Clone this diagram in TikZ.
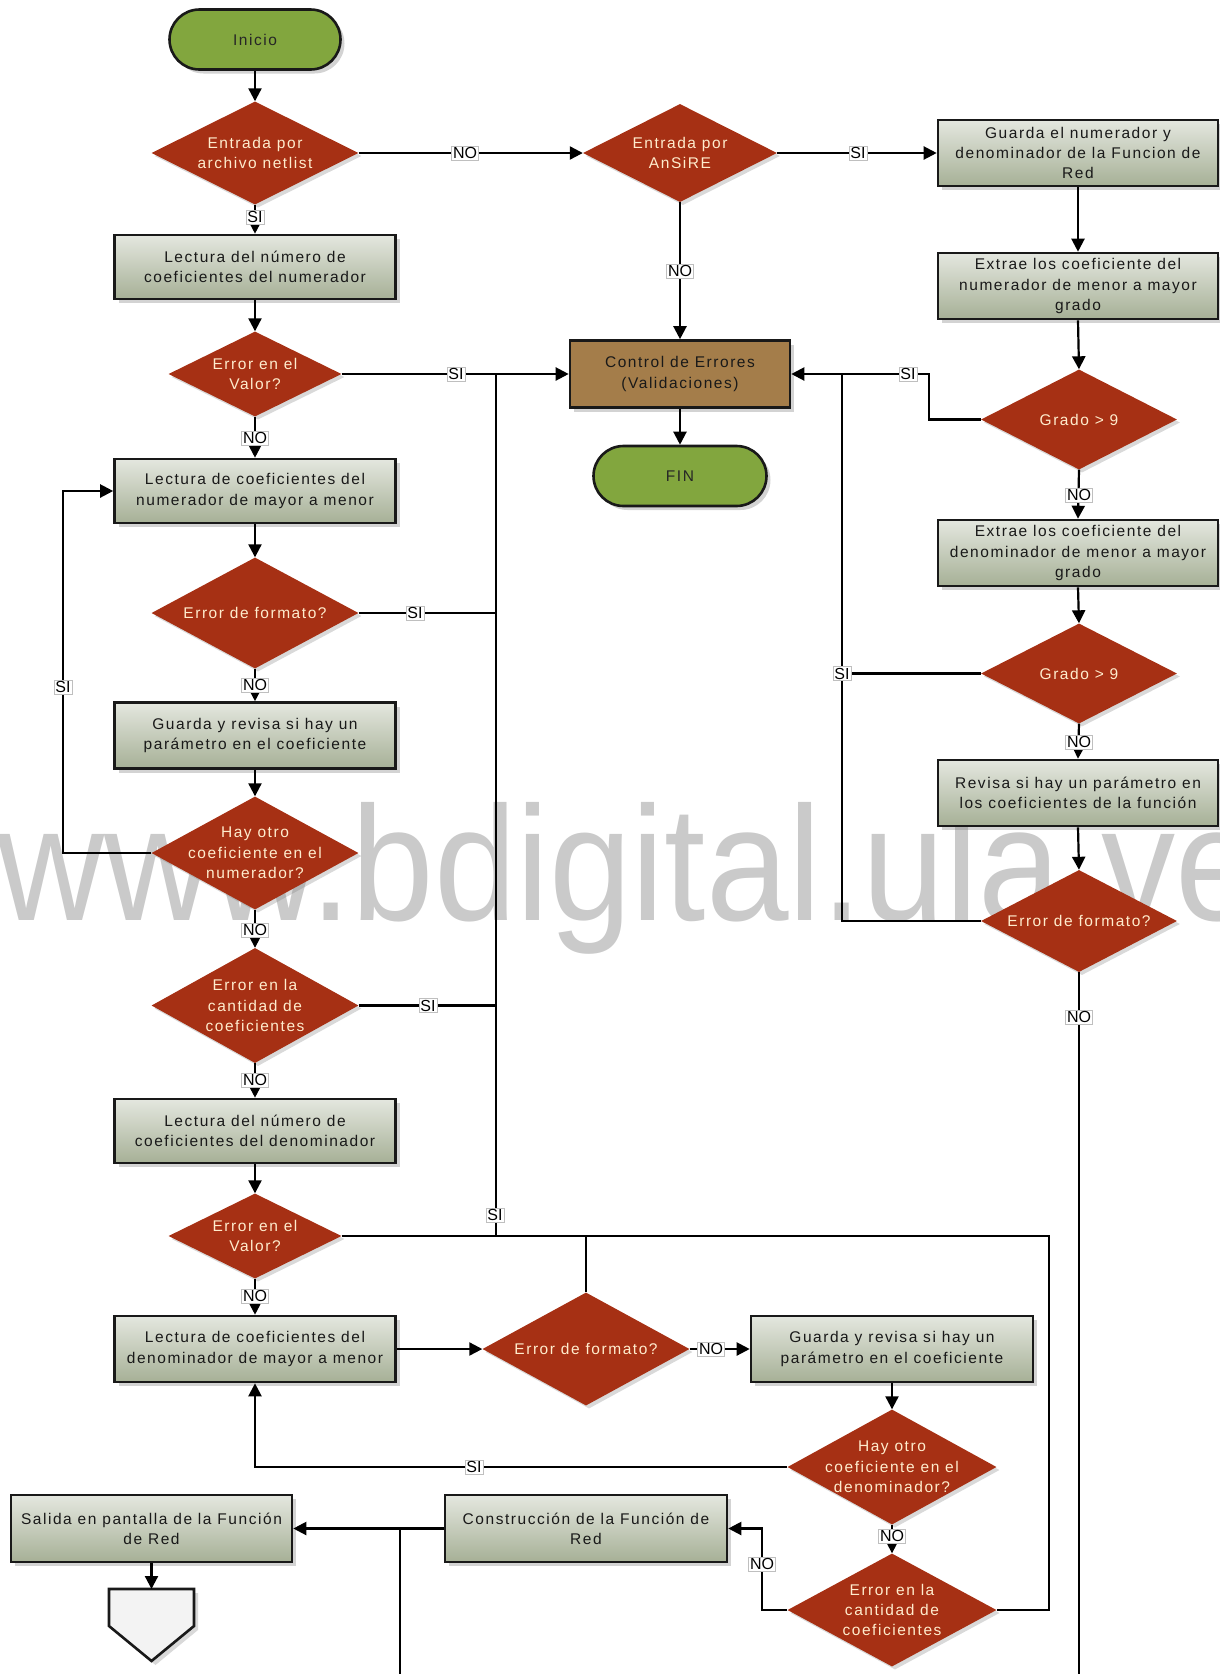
\documentclass[tikz,border=0pt]{standalone}
\usepackage{fontspec}
\usepackage{graphicx}
\setmainfont{Liberation Sans}
\newfontfamily\boxfont[LetterSpace=10]{Liberation Sans}
\usetikzlibrary{shapes.geometric,arrows.meta,shadows}

\definecolor{boxtop}{RGB}{228,231,223}
\definecolor{boxbot}{RGB}{166,176,150}
\definecolor{dred}{RGB}{166,48,20}
\definecolor{dtext}{RGB}{255,236,205}
\definecolor{tgreen}{RGB}{130,166,62}
\definecolor{cbrown}{RGB}{164,125,74}
\definecolor{wmark}{RGB}{202,202,202}
\definecolor{offfill}{RGB}{243,243,243}

\begin{document}
\begin{tikzpicture}[x=1pt,y=-1pt,
  basebox/.style={rectangle, draw=black!90, line width=2.6pt, minimum width=281pt,
    minimum height=64pt, inner sep=2pt, align=center,
    font=\boxfont\fontsize{15.5}{20.3}\selectfont, text=black!90,
    drop shadow={shadow xshift=4pt, shadow yshift=-4pt, opacity=0.35}},
  procbox/.style={basebox, top color=boxtop, bottom color=boxbot},
  ctrlbox/.style={basebox, fill=cbrown},
  dec/.style={diamond, fill=dred, draw=none, inner sep=0pt,
    drop shadow={shadow xshift=3pt, shadow yshift=-3pt, opacity=0.3}},
  dtxt/.style={align=center, text=dtext, inner sep=0pt,
    font=\boxfont\fontsize{15.5}{20.3}\selectfont},
  term/.style={rectangle, rounded corners=30pt, draw=black!90, line width=2.6pt,
    fill=tgreen, minimum width=171pt, minimum height=60pt, text=black!85,
    font=\boxfont\fontsize{15.5}{20.3}\selectfont,
    drop shadow={shadow xshift=4pt, shadow yshift=-4pt, opacity=0.35}},
  conn/.style={line width=2.2pt, draw=black},
  arr/.style={conn, -{Triangle[length=13pt,width=13pt]}},
  yn/.style={fill=white, draw=gray!50, line width=0.6pt, inner sep=1.4pt,
    font=\fontsize{16}{16}\selectfont, text=black},
]
\useasboundingbox (0,0) rectangle (1220,1674);

% watermark (behind)
\node[anchor=base west, text=wmark, inner sep=0pt, font=\fontsize{163}{163}\selectfont]
  (wm) at (-3,920) {\scalebox{0.91}[1]{www.bdigital.ula.ve}};

% ---------- nodes ----------
\node[term] (ini) at (255,39.5) {Inicio};
\node[dec, minimum width=207pt, minimum height=103pt] (d1) at (255,153) {};
\node[dtxt] (d1t) at (d1.center) {Entrada por\\archivo netlist};
\node[dec, minimum width=194pt, minimum height=98pt] (d2) at (680,153) {};
\node[dtxt] (d2t) at (d2.center) {Entrada por\\AnSiRE};
\node[procbox, minimum width=280pt, minimum height=66pt] (g1) at (1078,153)
  {Guarda el numerador y\\denominador de la Funcion de\\Red};
\node[procbox] (b1) at (255,267) {Lectura del número de\\coeficientes del numerador};
\node[procbox, minimum width=280pt, minimum height=66pt] (e1) at (1078,286)
  {Extrae los coeficiente del\\numerador de menor a mayor\\grado};
\node[dec, minimum width=173pt, minimum height=85pt] (d3) at (255,374) {};
\node[dtxt] (d3t) at (d3.center) {Error en el\\Valor?};
\node[ctrlbox, minimum width=220pt, minimum height=67pt] (ctrl) at (680,374)
  {Control de Errores\\(Validaciones)};
\node[dec, minimum width=196pt, minimum height=100pt] (gr1) at (1079,419.5) {};
\node[dtxt] (gr1t) at (gr1.center) {Grado > 9};
\node[term, minimum width=173pt] (fin) at (680,476) {FIN};
\node[procbox] (b2) at (255,491) {Lectura de coeficientes del\\numerador de mayor a menor};
\node[procbox, minimum width=280pt, minimum height=66pt] (e2) at (1078,553)
  {Extrae los coeficiente del\\denominador de menor a mayor\\grado};
\node[dec, minimum width=207pt, minimum height=111pt] (d4) at (255,613) {};
\node[dtxt] (d4t) at (d4.center) {Error de formato?};
\node[dec, minimum width=196pt, minimum height=100pt] (gr2) at (1079,673.5) {};
\node[dtxt] (gr2t) at (gr2.center) {Grado > 9};
\node[procbox, minimum height=66pt] (b3) at (255,735.5)
  {Guarda y revisa si hay un\\parámetro en el coeficiente};
\node[procbox, minimum width=280pt, minimum height=66pt] (rv) at (1078,793)
  {Revisa si hay un parámetro en\\los coeficientes de la función};
\node[dec, minimum width=207pt, minimum height=113pt] (d5) at (255,853) {};
\node[dtxt] (d5t) at (d5.center) {Hay otro\\coeficiente en el\\numerador?};
\node[dec, minimum width=196pt, minimum height=102pt] (fm2) at (1079,921) {};
\node[dtxt] (fm2t) at (fm2.center) {Error de formato?};
\node[dec, minimum width=207pt, minimum height=115pt] (d6) at (255,1005.5) {};
\node[dtxt] (d6t) at (d6.center) {Error en la\\cantidad de\\coeficientes};
\node[procbox] (b4) at (255,1131) {Lectura del número de\\coeficientes del denominador};
\node[dec, minimum width=173pt, minimum height=85pt] (d7) at (255,1236) {};
\node[dtxt] (d7t) at (d7.center) {Error en el\\Valor?};
\node[procbox, minimum height=66pt] (b5) at (255,1349)
  {Lectura de coeficientes del\\denominador de mayor a menor};
\node[dec, minimum width=207pt, minimum height=113pt] (d8) at (586,1349) {};
\node[dtxt] (d8t) at (d8.center) {Error de formato?};
\node[procbox, minimum width=282pt, minimum height=66pt] (b6) at (892,1349)
  {Guarda y revisa si hay un\\parámetro en el coeficiente};
\node[dec, minimum width=209pt, minimum height=115pt] (d9) at (892,1467) {};
\node[dtxt] (d9t) at (d9.center) {Hay otro\\coeficiente en el\\denominador?};
\node[procbox, minimum width=282pt, minimum height=67pt] (b7) at (586,1528.5)
  {Construcción de la Función de\\Red};
\node[procbox, minimum height=67pt] (sal) at (151.5,1528.5)
  {Salida en pantalla de la Función\\de Red};
\node[dec, minimum width=209pt, minimum height=113pt] (d10) at (892,1610) {};
\node[dtxt] (d10t) at (d10.center) {Error en la\\cantidad de\\coeficientes};

% off-page connector
\coordinate (offc) at (151.5,1589);
\draw[line width=2.6pt, draw=black!90, fill=offfill,
  drop shadow={shadow xshift=4pt, shadow yshift=-4pt, opacity=0.3}]
  (109,1589) -- (194,1589) -- (194,1626) -- (151.5,1661) -- (109,1626) -- cycle;

% helper coordinates
\coordinate (bust) at (496,374);
\coordinate (busb) at (496,1236);
\coordinate (lx) at (63,0);
\coordinate (nx) at (762,0);
\coordinate (dn) at (400,1674);
\coordinate (rx) at (929,0);
\coordinate (vx) at (842,0);
\coordinate (ox) at (1049,0);

% ---------- connectors ----------
\draw[arr] (ini.south) -- (d1.north);
\draw[arr] (d1.east) -- (d2.west);
\draw[arr] (d2.east) -- (g1.west);
\draw[arr] (d1.south) -- (b1.north);
\draw[arr] (d2.south) -- (ctrl.north);
\draw[arr] (g1.south) -- (e1.north);
\draw[arr] (e1.south) -- (gr1.north);
\draw[arr] (b1.south) -- (d3.north);
\draw[arr] (d3.east) -- (ctrl.west);
\draw[arr] (ctrl.south) -- (fin.north);
\draw[arr] (d3.south) -- (b2.north);
\draw[arr] (b2.south) -- (d4.north);
\draw[conn] (d4.east) -- (d4.east -| bust);
\draw[arr] (d4.south) -- (b3.north);
\draw[arr] (b3.south) -- (d5.north);
\draw[arr] (d5.west) -- (d5.west -| lx) -- (b2.west -| lx) -- (b2.west);
\draw[arr] (d5.south) -- (d6.north);
\draw[conn] (d6.east) -- (d6.east -| bust);
\draw[arr] (d6.south) -- (b4.north);
\draw[arr] (b4.south) -- (d7.north);
\draw[conn] (busb) -- (bust);
\draw[conn] (d7.east) -- (d7.east -| ox) -- (d10.east -| ox) -- (d10.east);
\draw[conn] (d8.north) -- (d8.north |- d7.east);
\draw[arr] (d7.south) -- (b5.north);
\draw[arr] (b5.east) -- (d8.west);
\draw[arr] (d8.east) -- (b6.west);
\draw[arr] (b6.south) -- (d9.north);
\draw[arr] (d9.west) -- (d9.west -| b5.south) -- (b5.south);
\draw[arr] (d9.south) -- (d10.north);
\draw[arr] (d10.west) -- (d10.west -| nx) -- (b7.east -| nx) -- (b7.east);
\draw[arr] (b7.west) -- (sal.east);
\draw[conn] (dn |- b7.west) -- (dn);
\draw[arr] (sal.south) -- (offc);
% right column
\draw[arr] (gr1.west) -- (gr1.west -| rx) -- (ctrl.east -| rx) -- (ctrl.east);
\draw[conn] (ctrl.east -| vx) -- (fm2.west -| vx) -- (fm2.west);
\draw[conn] (gr2.west) -- (gr2.west -| vx);
\draw[arr] (gr1.south) -- (e2.north);
\draw[arr] (e2.south) -- (gr2.north);
\draw[arr] (gr2.south) -- (rv.north);
\draw[arr] (rv.south) -- (fm2.north);
\draw[conn] (fm2.south) -- (fm2.south |- dn);

% ---------- labels ----------
\node[yn] (l1) at (465,153) {NO};
\node[yn] (l2) at (858,153) {SI};
\node[yn] (l3) at (255,217) {SI};
\node[yn] (l4) at (680,271) {NO};
\node[yn] (l5) at (456,374) {SI};
\node[yn] (l6) at (255,438) {NO};
\node[yn] (l7) at (415,613) {SI};
\node[yn] (l8) at (255,685) {NO};
\node[yn] (l9) at (63,687) {SI};
\node[yn] (l10) at (255,930) {NO};
\node[yn] (l11) at (428,1005.5) {SI};
\node[yn] (l12) at (255,1080) {NO};
\node[yn] (l13) at (495,1215) {SI};
\node[yn] (l14) at (255,1296) {NO};
\node[yn] (l15) at (711,1349) {NO};
\node[yn] (l16) at (474,1467) {SI};
\node[yn] (l17) at (892,1536) {NO};
\node[yn] (l18) at (762,1564) {NO};
\node[yn] (l19) at (908,374) {SI};
\node[yn] (l20) at (842,673.5) {SI};
\node[yn] (l21) at (1079,495) {NO};
\node[yn] (l22) at (1079,742) {NO};
\node[yn] (l23) at (1079,1017) {NO};
\end{tikzpicture}
\end{document}
